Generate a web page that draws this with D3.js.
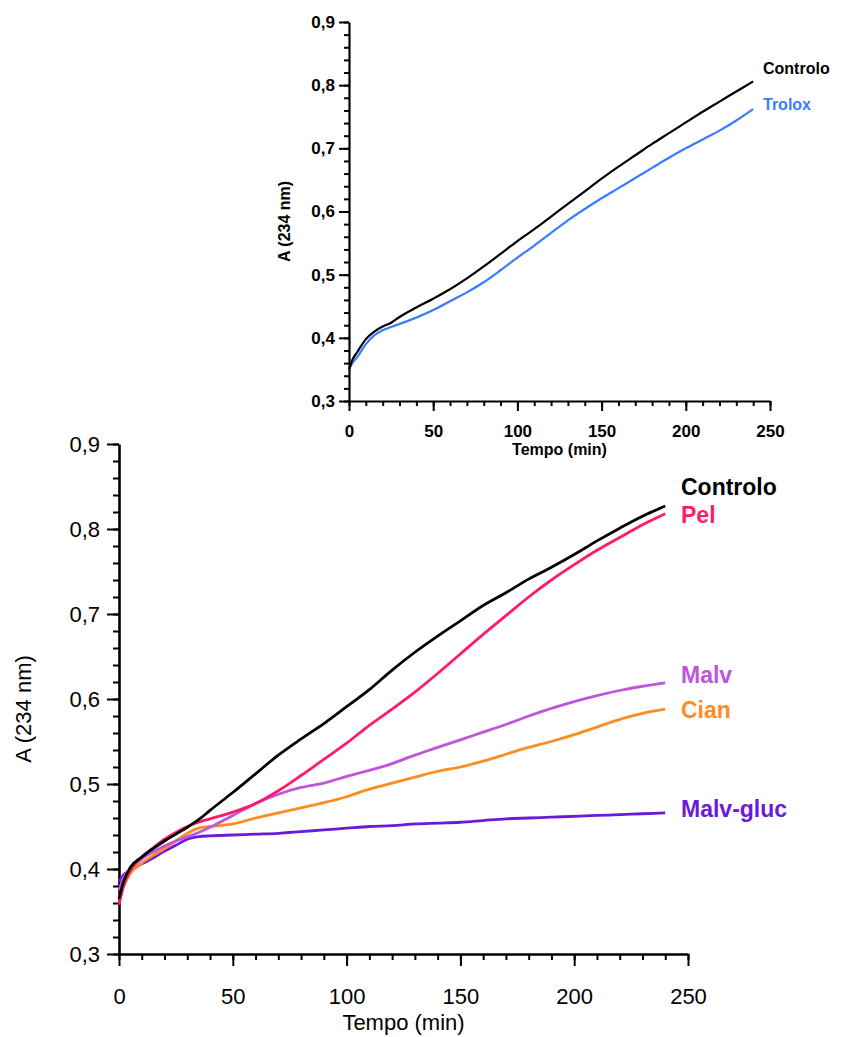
<!DOCTYPE html>
<html>
<head>
<meta charset="utf-8">
<script src="https://cdn.jsdelivr.net/npm/d3@7"></script>
<style>
  body { margin: 0; background: #fff; }
  svg { display: block; font-family: "Liberation Sans", Arial, sans-serif; }
</style>
</head>
<body>
<svg id="chart" width="842" height="1037"></svg>
<script>
// ---- data ----
var topTimes = [0, 2, 5, 10, 15, 20, 25, 30, 40, 50, 60, 70, 80, 90, 100, 110, 120, 130, 140, 150, 160, 170, 180, 190, 200, 210, 220, 230, 240];
var topControlo = [0.350, 0.365, 0.378, 0.398, 0.410, 0.418, 0.424, 0.433, 0.448, 0.462, 0.477, 0.494, 0.513, 0.533, 0.553, 0.572, 0.592, 0.612, 0.632, 0.652, 0.671, 0.689, 0.707, 0.724, 0.741, 0.758, 0.774, 0.790, 0.806];
var topTrolox = [0.350, 0.360, 0.370, 0.390, 0.404, 0.412, 0.417, 0.422, 0.432, 0.444, 0.458, 0.472, 0.488, 0.507, 0.527, 0.546, 0.566, 0.586, 0.604, 0.621, 0.637, 0.653, 0.669, 0.685, 0.700, 0.714, 0.728, 0.744, 0.762];

var botTimes = [0, 2, 5, 10, 15, 20, 25, 30, 35, 40, 50, 60, 70, 80, 90, 100, 110, 120, 130, 140, 150, 160, 170, 180, 190, 200, 210, 220, 230, 240];
var controlo = [0.365, 0.385, 0.402, 0.414, 0.424, 0.433, 0.441, 0.449, 0.458, 0.469, 0.490, 0.512, 0.534, 0.553, 0.571, 0.591, 0.611, 0.634, 0.655, 0.674, 0.692, 0.710, 0.725, 0.741, 0.755, 0.770, 0.786, 0.801, 0.815, 0.827];
var pel = [0.358, 0.380, 0.398, 0.414, 0.425, 0.435, 0.443, 0.450, 0.455, 0.459, 0.467, 0.477, 0.492, 0.510, 0.529, 0.548, 0.569, 0.588, 0.608, 0.630, 0.653, 0.676, 0.698, 0.720, 0.740, 0.758, 0.775, 0.790, 0.805, 0.818];
var malv = [0.375, 0.390, 0.400, 0.412, 0.420, 0.427, 0.433, 0.438, 0.443, 0.449, 0.463, 0.477, 0.488, 0.496, 0.501, 0.509, 0.516, 0.524, 0.534, 0.543, 0.552, 0.561, 0.570, 0.580, 0.589, 0.597, 0.604, 0.610, 0.615, 0.619];
var cian = [0.368, 0.380, 0.395, 0.407, 0.416, 0.424, 0.433, 0.442, 0.448, 0.450, 0.453, 0.460, 0.466, 0.472, 0.478, 0.485, 0.494, 0.501, 0.508, 0.515, 0.520, 0.527, 0.535, 0.543, 0.550, 0.558, 0.567, 0.576, 0.583, 0.588];
var malvGluc = [0.385, 0.393, 0.398, 0.406, 0.413, 0.421, 0.428, 0.435, 0.438, 0.439, 0.440, 0.441, 0.442, 0.444, 0.446, 0.448, 0.450, 0.451, 0.453, 0.454, 0.455, 0.457, 0.459, 0.460, 0.461, 0.462, 0.463, 0.464, 0.465, 0.466];

var xMajor = [0, 50, 100, 150, 200, 250];
var yMajor = [0.3, 0.4, 0.5, 0.6, 0.7, 0.8, 0.9];
var xLabel = "Tempo (min)";
var yLabel = "A (234 nm)";

var svg = d3.select("#chart");
var fmt = function(d){ return d3.format(".1f")(d).replace(".", ","); };

function panel(opt){
  var x = d3.scaleLinear().domain([0, 250]).range([opt.left, opt.right]);
  var y = d3.scaleLinear().domain([0.3, 0.9]).range([opt.bottom, opt.top]);
  var g = svg.append("g");

  var xMinor = d3.range(0, 251, 10), yMinor = d3.range(0.3, 0.9001, 0.02);

  // minor ticks
  g.append("g").attr("transform", "translate(0," + opt.bottom + ")")
    .call(d3.axisBottom(x).tickValues(xMinor).tickSize(opt.minor).tickFormat(""))
    .call(function(a){ a.select(".domain").remove(); });
  g.append("g").attr("transform", "translate(" + opt.left + ",0)")
    .call(d3.axisLeft(y).tickValues(yMinor).tickSize(opt.minor).tickFormat(""))
    .call(function(a){ a.select(".domain").remove(); });

  // major ticks + labels
  g.append("g").attr("transform", "translate(0," + opt.bottom + ")")
    .call(d3.axisBottom(x).tickValues(xMajor).tickSize(opt.major).tickSizeOuter(0).tickPadding(opt.xPad));
  g.append("g").attr("transform", "translate(" + opt.left + ",0)")
    .call(d3.axisLeft(y).tickValues(yMajor).tickSize(opt.major).tickSizeOuter(0).tickPadding(opt.yPad).tickFormat(fmt));

  g.selectAll(".tick line").attr("stroke", "#000").attr("stroke-width", opt.tickW);
  g.selectAll(".domain").attr("stroke", "#000").attr("stroke-width", opt.axisW);
  g.selectAll(".tick text").attr("fill", "#000")
    .style("font-size", opt.tickFont + "px").style("font-weight", opt.weight);

  g.append("text")
    .attr("x", (opt.left + opt.right) / 2).attr("y", opt.xTitleY)
    .attr("text-anchor", "middle")
    .style("font-size", opt.titleFont + "px").style("font-weight", opt.weight)
    .text(xLabel);
  g.append("text")
    .attr("transform", "translate(" + opt.yTitleX + "," + ((opt.top + opt.bottom) / 2 + 10) + ") rotate(-90)")
    .attr("text-anchor", "middle")
    .style("font-size", opt.titleFont + "px").style("font-weight", opt.weight)
    .text(yLabel);

  var line = d3.line()
    .x(function(d){ return x(d[0]); })
    .y(function(d){ return y(d[1]); })
    .curve(d3.curveMonotoneX);

  opt.series.forEach(function(s){
    g.append("path")
      .datum(d3.zip(opt.times, s.values))
      .attr("fill", "none")
      .attr("stroke", s.color)
      .attr("stroke-width", opt.lineW)
      .attr("stroke-linejoin", "round")
      .attr("d", line);
    g.append("text")
      .attr("x", opt.labelX).attr("y", s.labelY)
      .attr("fill", s.color)
      .style("font-size", opt.labelFont + "px").style("font-weight", "bold")
      .text(s.name);
  });
}

// top panel
panel({
  left: 349, right: 770, top: 22, bottom: 401,
  major: 10, minor: 5, xPad: 14, yPad: 4, tickW: 2, axisW: 2.2,
  tickFont: 17, titleFont: 16, weight: "bold",
  xTitleY: 455, yTitleX: 290,
  lineW: 2.2, labelX: 763, labelFont: 16,
  times: topTimes,
  series: [
    {name: "Trolox", values: topTrolox, color: "#3a7cff", labelY: 110},
    {name: "Controlo", values: topControlo, color: "#000000", labelY: 74}
  ]
});

// bottom panel
panel({
  left: 119, right: 688, top: 444, bottom: 954,
  major: 12, minor: 6, xPad: 22, yPad: 7, tickW: 2, axisW: 2.6,
  tickFont: 22, titleFont: 22, weight: "normal",
  xTitleY: 1030, yTitleX: 31,
  lineW: 2.8, labelX: 681, labelFont: 23,
  times: botTimes,
  series: [
    {name: "Malv-gluc", values: malvGluc, color: "#6a1ad8", labelY: 817},
    {name: "Cian", values: cian, color: "#ff8c1e", labelY: 718},
    {name: "Malv", values: malv, color: "#bd55dd", labelY: 683},
    {name: "Pel", values: pel, color: "#ff1a6c", labelY: 523},
    {name: "Controlo", values: controlo, color: "#000000", labelY: 495}
  ]
});
</script>
</body>
</html>
